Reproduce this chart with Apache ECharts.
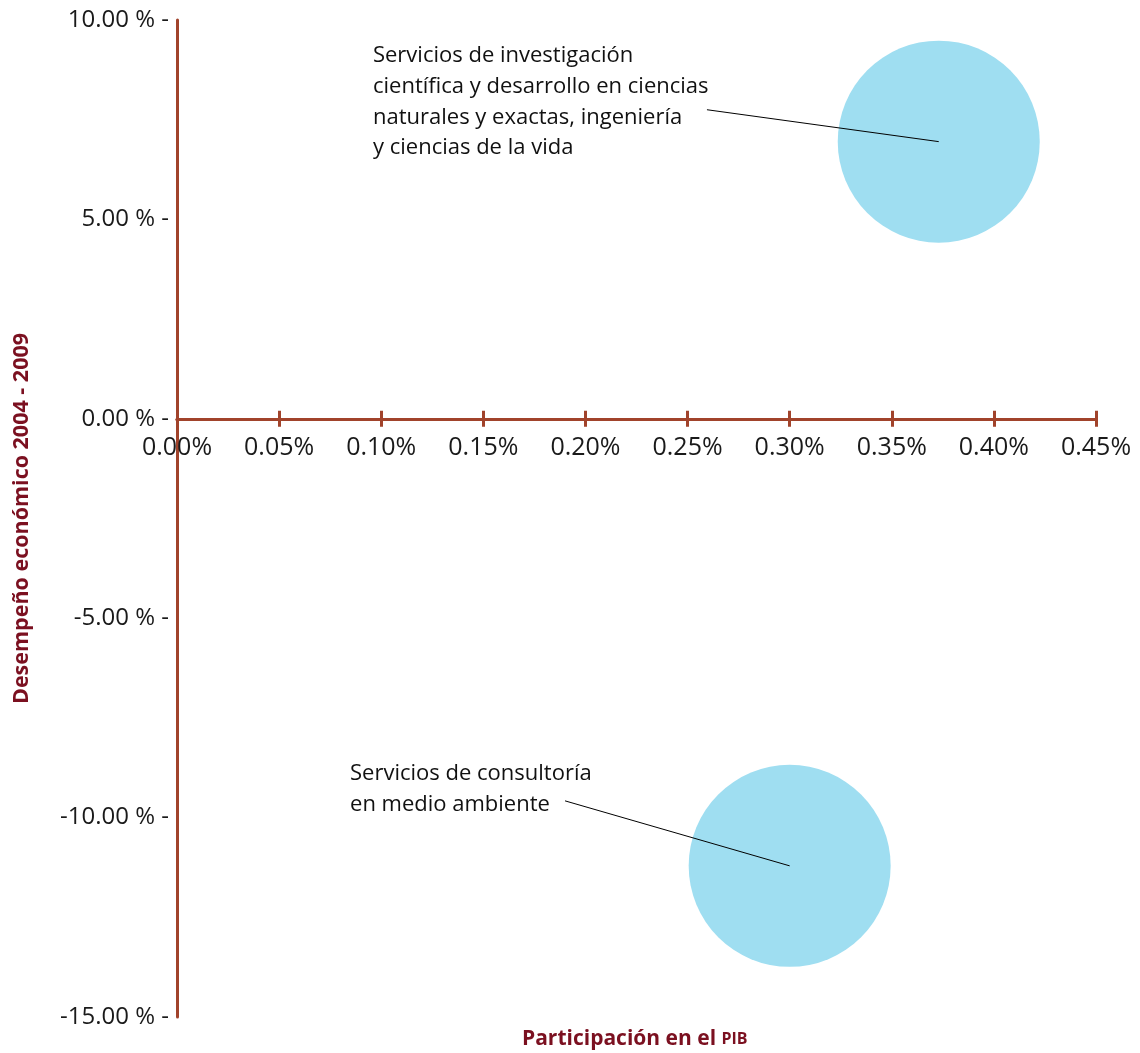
<!DOCTYPE html>
<html>
<head>
<meta charset="utf-8">
<script src="https://cdn.jsdelivr.net/npm/echarts@6/dist/echarts.min.js"></script>
<style>html,body{margin:0;padding:0;background:#fff}#c{width:1140px;height:1053px}</style>
</head>
<body>
<div id="c"></div>
<script>
// Data
var sectorNames = [
  'Servicios de investigación\ncientífica y desarrollo en ciencias\nnaturales y exactas, ingeniería\ny ciencias de la vida',
  'Servicios de consultoría\nen medio ambiente'
];
var gdpShare = [0.373, 0.300];          // % participación en el PIB
var performance = [6.95, -11.21];        // % desempeño económico 2004-2009
var labelAnchorX = [0.2595, 0.190];      // leader-line start (data units)
var labelAnchorY = [7.75, -9.58];
var xTicks = [0, 0.05, 0.10, 0.15, 0.20, 0.25, 0.30, 0.35, 0.40, 0.45];
var yTicks = [-15, -10, -5, 0, 5, 10];

var FONT = '"Open Sans", sans-serif';
var AXIS = '#a1432b';
var TITLE = '#7b1020';

var GRID_TOP = 20, GRID_BOTTOM_PX = 1017, W = 1140, H = 1053;
var yMin = yTicks[0], yMax = yTicks[yTicks.length - 1];
var gridH = GRID_BOTTOM_PX - GRID_TOP;
var zeroFromBottom = gridH * (0 - yMin) / (yMax - yMin);
var zeroFromTop = gridH - zeroFromBottom;

var labelOffsets = [[-333, -68], [-214, -41]];

var leaderLines = sectorNames.map(function (name, i) {
  return {
    type: 'line',
    symbol: 'none',
    silent: true,
    z: 5,
    lineStyle: { color: '#000', width: 1 },
    data: [[labelAnchorX[i], labelAnchorY[i]], [gdpShare[i], performance[i]]]
  };
});

var labelSeries = {
  type: 'scatter',
  symbol: 'circle',
  symbolSize: 2,
  silent: true,
  z: 6,
  itemStyle: { color: 'rgba(0,0,0,0)', opacity: 1 },
  labelLayout: { hideOverlap: false },
  label: { show: true },
  data: sectorNames.map(function (name, i) {
    return {
      value: [labelAnchorX[i], labelAnchorY[i]],
      label: {
        show: true,
        position: labelOffsets[i],
        align: 'left',
        verticalAlign: 'top',
        formatter: name,
        fontFamily: FONT,
        fontSize: 22,
        lineHeight: 30.7,
        color: '#111'
      }
    };
  })
};

var chart = echarts.init(document.getElementById('c'));
chart.setOption({
  animation: false,
  backgroundColor: '#fff',
  title: {
    text: '{a|Participación en el }{b|PIB}',
    left: 517,
    top: 1024,
    textStyle: {
      rich: {
        a: { fontFamily: FONT, fontSize: 21, fontWeight: 'bold', color: TITLE },
        b: { fontFamily: FONT, fontSize: 16, fontWeight: 'bold', color: TITLE }
      }
    }
  },
  grid: { left: 177, right: 44, top: GRID_TOP, bottom: H - GRID_BOTTOM_PX, containLabel: false, outerBoundsMode: 'none' },
  xAxis: [
    {
      type: 'value',
      position: 'bottom',
      offset: -zeroFromBottom,
      min: xTicks[0],
      max: xTicks[xTicks.length - 1],
      interval: 0.05,
      axisLine: { onZero: false, lineStyle: { color: AXIS, width: 3 } },
      axisTick: { show: true, length: 8, lineStyle: { color: AXIS, width: 3 } },
      splitLine: { show: false },
      axisLabel: {
        margin: 17,
        fontFamily: FONT,
        fontSize: 25,
        color: '#1a1a1a',
        formatter: function (v) { return v.toFixed(2) + '%'; }
      }
    },
    {
      type: 'value',
      position: 'top',
      offset: -zeroFromTop,
      min: xTicks[0],
      max: xTicks[xTicks.length - 1],
      interval: 0.05,
      axisLine: { onZero: false, lineStyle: { color: AXIS, width: 3 } },
      axisTick: { show: true, length: 8, lineStyle: { color: AXIS, width: 3 } },
      splitLine: { show: false },
      axisLabel: { show: false }
    }
  ],
  yAxis: {
    type: 'value',
    min: yMin,
    max: yMax,
    interval: 5,
    name: 'Desempeño económico 2004 - 2009',
    nameLocation: 'middle',
    nameRotate: 90,
    nameGap: 144,
    nameTextStyle: { fontFamily: FONT, fontSize: 21.5, fontWeight: 'bold', color: TITLE },
    axisLine: { show: true, onZero: false, lineStyle: { color: AXIS, width: 3 } },
    axisTick: { show: false },
    splitLine: { show: false },
    axisLabel: {
      margin: 8,
      fontFamily: FONT,
      fontSize: 24,
      color: '#1a1a1a',
      formatter: function (v) { return v.toFixed(2) + ' % -'; }
    }
  },
  series: [
    {
      type: 'scatter',
      symbol: 'circle',
      symbolSize: 202,
      z: 2,
      itemStyle: { color: '#9fdef1', opacity: 1 },
      data: gdpShare.map(function (x, i) { return [x, performance[i]]; })
    },
    labelSeries
  ].concat(leaderLines)
});
</script>
</body>
</html>
